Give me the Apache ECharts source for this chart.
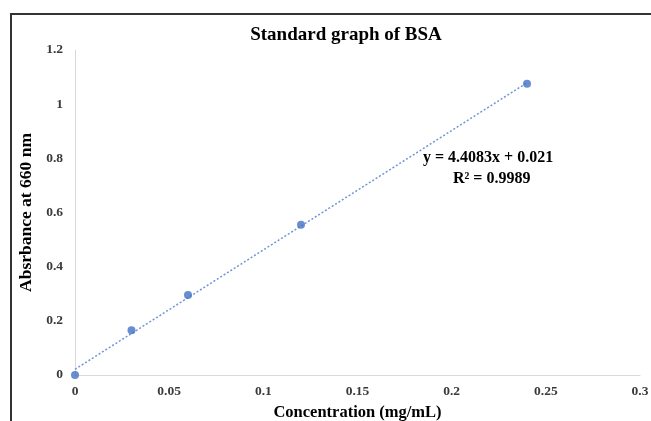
<!DOCTYPE html>
<html>
<head>
<meta charset="utf-8">
<script src="https://cdn.jsdelivr.net/npm/echarts@6/dist/echarts.min.js"></script>
<style>
  html, body { margin: 0; padding: 0; background: #fff; }
  #chart { width: 651px; height: 421px; }
</style>
</head>
<body>
<div id="chart"></div>
<script>
// measured BSA standards
const concentration = [0, 0.03, 0.06, 0.12, 0.24]
const absorbance = [0, 0.165, 0.295, 0.555, 1.075]
// dotted linear trendline ends (y = 4.4083x + 0.021)
const trendX = [0, 0.24]
const trendY = [0.021, 1.079]
const equationText = 'y = 4.4083x + 0.021'
const rSquaredText = 'R² = 0.9989'

const serif = '"Liberation Serif", "DejaVu Serif", serif'

let chart = echarts.init(document.getElementById('chart'))
chart.setOption({
  animation: false,
  title: {
    text: 'Standard graph of BSA',
    left: 341,
    top: 21,
    textAlign: 'center',
    textStyle: { fontFamily: serif, fontWeight: 'bold', fontSize: 19, color: '#000' }
  },
  grid: { left: 75, right: 11, top: 50, bottom: 46, outerBoundsMode: 'none', containLabel: false },
  xAxis: {
    type: 'value',
    min: 0,
    max: 0.3,
    interval: 0.05,
    name: 'Concentration (mg/mL)',
    nameLocation: 'middle',
    nameGap: 28,
    nameTextStyle: { fontFamily: serif, fontWeight: 'bold', fontSize: 16.5, color: '#000' },
    axisLine: { lineStyle: { color: '#d9d9d9', width: 1 } },
    axisTick: { show: false },
    splitLine: { show: false },
    axisLabel: {
      margin: 10,
      fontFamily: serif,
      fontWeight: 'bold',
      fontSize: 13.5,
      color: '#3a3a3a',
      formatter: v => String(+v.toFixed(2))
    }
  },
  yAxis: {
    type: 'value',
    min: 0,
    max: 1.2,
    interval: 0.2,
    name: 'Absrbance at 660 nm',
    nameLocation: 'middle',
    nameGap: 34,
    nameRotate: 90,
    nameTextStyle: { fontFamily: serif, fontWeight: 'bold', fontSize: 17.5, color: '#000' },
    axisLine: { show: true, lineStyle: { color: '#d9d9d9', width: 1 } },
    axisTick: { show: false },
    splitLine: { show: false },
    axisLabel: {
      margin: 12,
      fontFamily: serif,
      fontWeight: 'bold',
      fontSize: 13.5,
      color: '#3a3a3a',
      formatter: v => String(+v.toFixed(1))
    }
  },
  series: [
    {
      name: 'trend',
      type: 'line',
      data: trendX.map((x, i) => [x, trendY[i]]),
      symbol: 'none',
      lineStyle: { color: '#6f95d6', width: 1.5, type: [2, 2] },
      z: 2
    },
    {
      name: 'BSA',
      type: 'scatter',
      data: concentration.map((x, i) => [x, absorbance[i]]),
      symbolSize: 8,
      itemStyle: { color: '#4472c4' },
      z: 3
    }
  ],
  graphic: [
    {
      type: 'polyline',
      shape: { points: [[11, 421], [11, 14], [651, 14]] },
      style: { stroke: '#333', lineWidth: 2, fill: null }
    },
    {
      type: 'text',
      style: { x: 423, y: 158, text: equationText, font: 'bold 16px ' + serif, fill: '#000', verticalAlign: 'middle' }
    },
    {
      type: 'text',
      style: { x: 453, y: 179, text: rSquaredText, font: 'bold 16px ' + serif, fill: '#000', verticalAlign: 'middle' }
    }
  ]
})
</script>
</body>
</html>
